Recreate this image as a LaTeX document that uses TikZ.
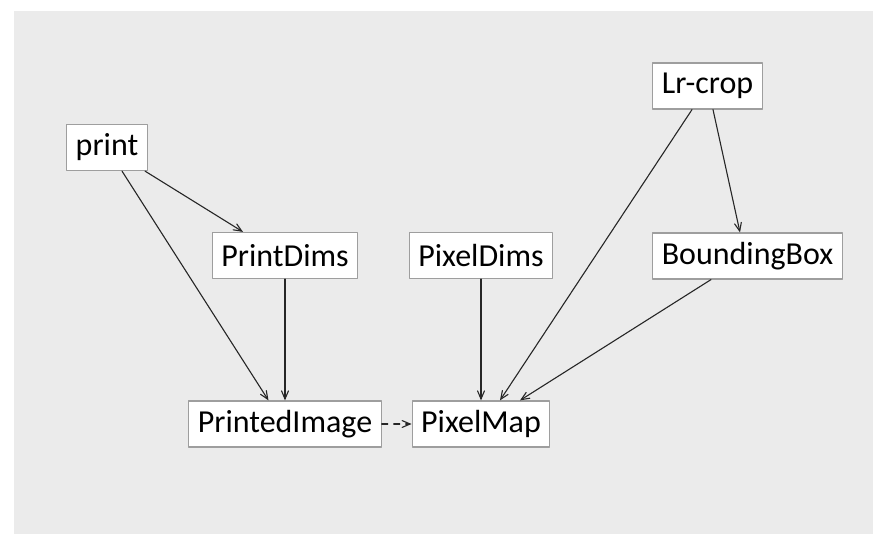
\documentclass[tikz,border=0pt]{standalone}
\usepackage{fontspec}
\setmainfont{Carlito}
\usetikzlibrary{arrows}

\begin{document}
\begin{tikzpicture}
			[line cap=round,line join=round,>=angle 45,x=0.5pt,y=-0.5pt,
			box/.style={draw=black!38,fill=white,line width=0.6pt,minimum height=23pt,inner xsep=4.5pt,inner ysep=0pt,font=\fontsize{16}{18}\selectfont},
			link/.style={->,line width=0.55pt,black!85}]
			\useasboundingbox (0,0) rectangle (873,534);
			\fill [black!8] (14,11) rectangle (873,534);
			\node [box] (print) at (107,147.5) {print};
			\node [box] (pdims) at (285,255.5) {PrintDims};
			\node [box] (pxdims) at (481,255.5) {PixelDims};
			\node [box] (lrcrop) at (707.5,86) {Lr-crop};
			\node [box] (bbox) at (747.5,256) {BoundingBox};
			\node [box] (pimage) at (285,424) {PrintedImage};
			\node [box] (pmap) at (481,424) {PixelMap};
			\draw [link] ([xshift=19pt]print.south) -- ([xshift=-21pt]pdims.north);
			\draw [link] ([xshift=7.5pt]print.south) -- ([xshift=-8.25pt]pimage.north);
			\draw [link] (pdims) -- (pimage);
			\draw [link,dashed] (pimage) -- (pmap);
			\draw [link] (pxdims) -- (pmap);
			\draw [link] ([xshift=-7.75pt]lrcrop.south) -- ([xshift=9.5pt]pmap.north);
			\draw [link] ([xshift=2.75pt]lrcrop.south) -- ([xshift=-3.75pt]bbox.north);
			\draw [link] ([xshift=-18.25pt]bbox.south) -- ([xshift=19.5pt]pmap.north);
		\end{tikzpicture}
\end{document}
